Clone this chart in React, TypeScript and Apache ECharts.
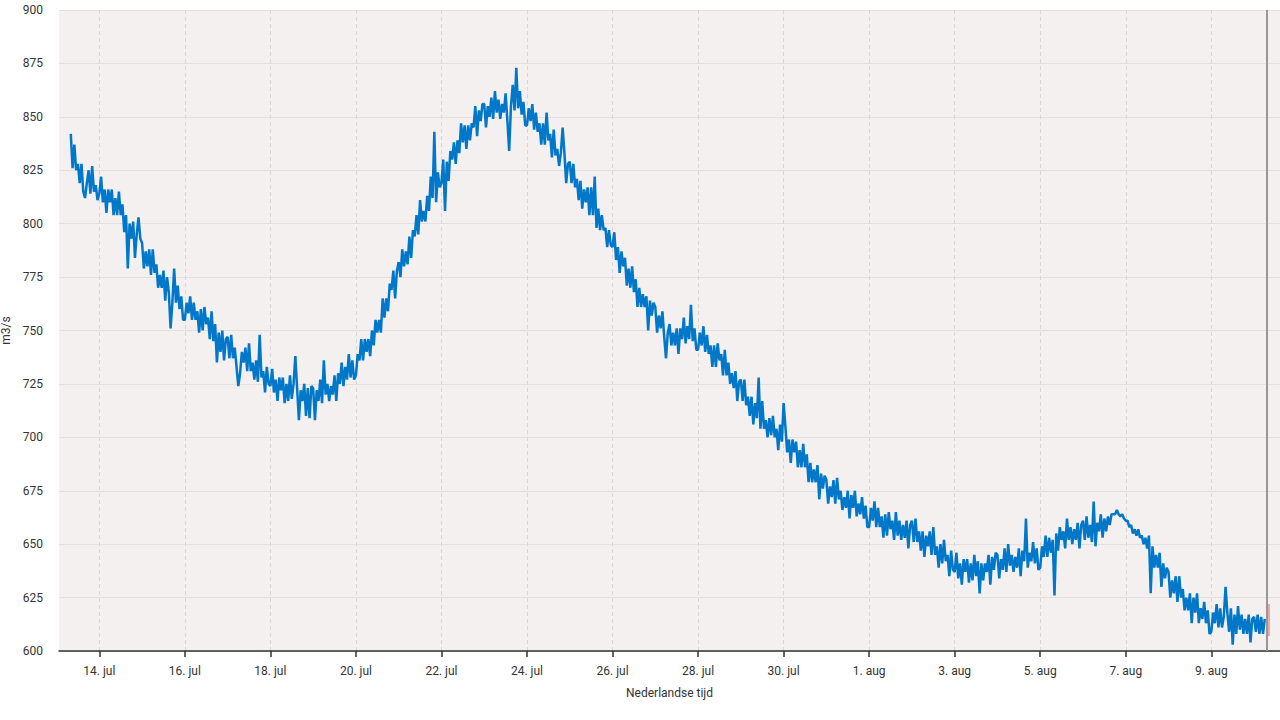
import React, { useEffect, useRef } from "react";
import * as echarts from "echarts";

// Time settings
const SERIES_START = "2023-07-13T08:00:00Z";
const STEP_HOURS = 1;
const NOW_MARK = "2023-08-10T07:15:00Z";
const X_MIN = "2023-07-13T01:23:00Z";
const X_MAX = "2023-08-10T14:33:00Z";

// Discharge (m3/s), hourly values
const FLOW_JUL13_19 = [
  842, 826, 837, 825, 828, 819, 828, 815, 812, 819, 825, 814, 827, 815, 818, 811,
  814, 822, 810, 816, 805, 816, 810, 816, 804, 812, 804, 815, 804, 809, 796, 804, 779, 800, 793, 801, 784, 795, 803, 793,
  791, 779, 787, 780, 788, 776, 788, 777, 781, 770, 776, 770, 778, 764, 775, 768, 751, 763, 779, 763, 771, 760, 766, 755,
  755, 763, 758, 766, 755, 763, 755, 759, 749, 760, 750, 761, 753, 756, 746, 759, 745, 753, 735, 749, 740, 750, 736, 746,
  747, 737, 748, 737, 742, 733, 724, 730, 740, 735, 742, 731, 744, 731, 735, 727, 736, 726, 748, 728, 731, 721, 733, 725,
  724, 732, 721, 727, 717, 728, 722, 728, 716, 725, 717, 729, 718, 725, 738, 723, 708, 722, 717, 725, 710, 723, 709, 724,
  723, 708, 722, 717, 727, 716, 736, 720, 725, 717, 724, 720, 729, 717, 730, 725, 735, 724, 733, 727, 739, 728, 736, 727,
];
const FLOW_JUL20_26 = [
  729, 739, 736, 746, 736, 746, 740, 746, 738, 750, 743, 755, 749, 755, 749, 765, 756, 765, 759, 772, 769, 778, 765, 778,
  782, 775, 788, 780, 787, 781, 794, 784, 797, 794, 804, 795, 811, 801, 806, 801, 813, 806, 822, 812, 843, 810, 824, 817,
  819, 830, 806, 829, 820, 834, 830, 838, 828, 839, 833, 847, 838, 846, 835, 846, 839, 847, 845, 855, 841, 853, 848, 856,
  856, 845, 855, 850, 859, 849, 862, 852, 858, 849, 856, 852, 861, 848, 834, 855, 865, 853, 873, 854, 862, 851, 857, 846,
  846, 854, 848, 856, 844, 852, 843, 847, 837, 847, 837, 852, 839, 842, 831, 844, 832, 835, 827, 833, 845, 833, 819, 828,
  829, 819, 828, 817, 821, 811, 820, 807, 816, 810, 817, 804, 817, 804, 822, 798, 807, 797, 804, 797, 798, 789, 797, 790,
  789, 796, 783, 789, 777, 787, 780, 784, 771, 779, 770, 780, 768, 774, 761, 770, 761, 767, 761, 766, 750, 764, 757, 763,
];
const FLOW_JUL27_AUG02 = [
  761, 749, 757, 751, 759, 747, 737, 749, 753, 743, 749, 743, 751, 739, 751, 746, 756, 744, 752, 746, 762, 745, 751, 741,
  741, 749, 743, 752, 740, 748, 739, 743, 733, 743, 733, 744, 736, 739, 729, 741, 729, 735, 725, 730, 723, 731, 717, 726,
  727, 717, 727, 715, 719, 710, 719, 706, 716, 709, 728, 704, 717, 704, 708, 700, 709, 701, 710, 700, 704, 694, 706, 698,
  716, 705, 693, 699, 688, 699, 693, 698, 686, 694, 686, 697, 686, 692, 679, 688, 679, 685, 679, 687, 671, 683, 676, 682,
  680, 669, 677, 672, 680, 669, 681, 671, 675, 666, 672, 667, 675, 662, 673, 667, 675, 663, 669, 664, 672, 662, 668, 658,
  658, 667, 661, 670, 658, 667, 658, 663, 653, 664, 654, 665, 657, 661, 652, 665, 654, 661, 652, 659, 653, 661, 648, 659,
  661, 651, 662, 651, 656, 647, 656, 644, 654, 649, 656, 645, 658, 645, 649, 639, 650, 641, 652, 642, 645, 635, 647, 638,
];
const FLOW_AUG03_10 = [
  637, 646, 634, 641, 631, 643, 637, 643, 632, 641, 633, 645, 635, 642, 627, 641, 633, 641, 637, 645, 631, 644, 638, 646,
  645, 634, 643, 638, 648, 637, 650, 640, 645, 637, 644, 639, 648, 635, 647, 642, 662, 639, 646, 642, 651, 641, 648, 638,
  639, 649, 644, 654, 644, 653, 646, 652, 626, 655, 647, 658, 652, 656, 648, 662, 652, 658, 650, 657, 652, 660, 648, 659,
  661, 652, 663, 653, 659, 651, 670, 649, 660, 656, 664, 653, 662, 656, 663, 659, 664, 664, 664, 666, 664, 663, 664, 662,
  661, 661, 658, 659, 655, 657, 654, 657, 653, 654, 650, 653, 648, 654, 627, 649, 639, 645, 639, 646, 630, 641, 634, 639,
  637, 625, 633, 627, 635, 623, 635, 625, 629, 619, 625, 619, 627, 613, 625, 618, 627, 613, 620, 615, 623, 613, 619, 608,
  609, 618, 613, 622, 611, 620, 611, 616, 630, 618, 609, 620, 603, 617, 608, 621, 610, 617, 608, 615, 608, 617, 604, 615,
  616, 609, 617, 608, 616, 608, 615,
];

// Uncertainty mark just after "now"
const NOW_BAND = [607, 622];

// X tick dates and month names
const TICK_DATES = [
  "2023-07-14", "2023-07-16", "2023-07-18", "2023-07-20", "2023-07-22",
  "2023-07-24", "2023-07-26", "2023-07-28", "2023-07-30", "2023-08-01",
  "2023-08-03", "2023-08-05", "2023-08-07", "2023-08-09",
];
const MONTHS = ["jan", "feb", "mrt", "apr", "mei", "jun", "jul", "aug", "sep", "okt", "nov", "dec"];

// Y axis
const Y_MIN = 600;
const Y_MAX = 900;
const Y_STEP = 25;

const FONT = "Roboto, 'Noto Sans', sans-serif";

export default function App() {
  const ref = useRef<HTMLDivElement>(null);

  useEffect(() => {
    if (!ref.current) return;
    const chart = echarts.init(ref.current, undefined, { renderer: "svg" });

    const flow = [...FLOW_JUL13_19, ...FLOW_JUL20_26, ...FLOW_JUL27_AUG02, ...FLOW_AUG03_10];
    const t0 = Date.parse(SERIES_START);
    const hour = 3600 * 1000;
    const stepMs = STEP_HOURS * hour;
    const data = flow.map((v, i) => [t0 + i * stepMs, v]);
    const tickValues = TICK_DATES.map((d) => Date.parse(d + "T00:00:00Z"));
    const now = Date.parse(NOW_MARK);

    chart.setOption({
      animation: false,
      textStyle: { fontFamily: FONT },
      grid: {
        left: 59,
        right: 0,
        top: 10,
        bottom: 69,
        show: true,
        backgroundColor: "#f3f0ef",
        borderWidth: 0,
        containLabel: false,
        outerBoundsMode: "none",
      },
      xAxis: {
        type: "value",
        min: Date.parse(X_MIN),
        max: Date.parse(X_MAX),
        name: "Nederlandse tijd",
        nameLocation: "middle",
        nameGap: 36,
        nameTextStyle: { fontSize: 12, color: "#333", fontFamily: FONT },
        axisLine: { show: true, lineStyle: { color: "#333", width: 1.5 } },
        axisTick: { show: true, length: 6, customValues: tickValues, lineStyle: { color: "#333", width: 1.5 } },
        axisLabel: {
          customValues: tickValues,
          margin: 14,
          fontSize: 12,
          color: "#333",
          fontFamily: FONT,
          formatter: (val: number) => {
            const d = new Date(val);
            return d.getUTCDate() + ". " + MONTHS[d.getUTCMonth()];
          },
        },
        splitLine: { show: true, lineStyle: { color: "#d9d6d5", type: [4, 3], width: 1 } },
      },
      yAxis: {
        type: "value",
        min: Y_MIN,
        max: Y_MAX,
        interval: Y_STEP,
        name: "m3/s",
        nameLocation: "middle",
        nameGap: 43,
        nameTextStyle: { fontSize: 12, color: "#333", fontFamily: FONT },
        axisLine: { show: false },
        axisTick: { show: false },
        axisLabel: { margin: 16, fontSize: 12, color: "#333", fontFamily: FONT },
        splitLine: { show: true, lineStyle: { color: "#e2dfde", width: 1 } },
      },
      series: [
        {
          type: "line",
          data,
          showSymbol: false,
          symbol: "none",
          lineStyle: { color: "#0077c8", width: 2.5 },
          itemStyle: { color: "#0077c8" },
          markLine: {
            silent: true,
            symbol: ["none", "none"],
            label: { show: false },
            lineStyle: { color: "#9a9696", width: 2, type: "solid" },
            data: [{ xAxis: now }],
          },
          markArea: {
            silent: true,
            itemStyle: { color: "rgba(232,120,120,0.6)" },
            data: [[{ xAxis: now + 0.5 * hour, yAxis: NOW_BAND[0] }, { xAxis: now + 1.7 * hour, yAxis: NOW_BAND[1] }]],
          },
        },
      ],
    });

    return () => chart.dispose();
  }, []);

  return (
    <div
      ref={ref}
      style={{ position: "fixed", left: 0, top: 0, width: 1280, height: 720, background: "#fff" }}
    />
  );
}
